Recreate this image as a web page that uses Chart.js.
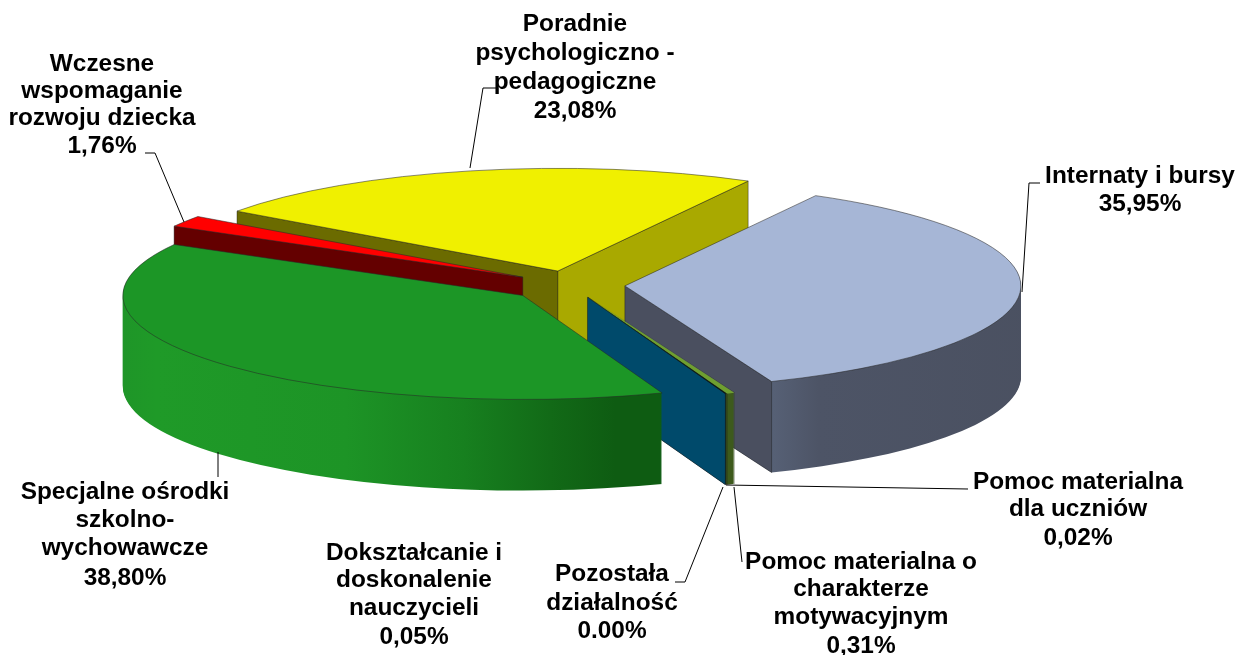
<!DOCTYPE html>
<html><head><meta charset="utf-8">
<style>html,body{margin:0;padding:0;background:#fff}canvas{display:block}</style>
<script src="https://cdn.jsdelivr.net/npm/chart.js@4/dist/chart.umd.js"></script>
</head><body>
<canvas id="c" width="1237" height="655"></canvas>
<script>
const categories = ["Internaty i bursy","Pomoc materialna dla uczniów","Pomoc materialna o charakterze motywacyjnym","Pozostała działalność","Dokształcanie i doskonalenie nauczycieli","Specjalne ośrodki szkolno-wychowawcze","Wczesne wspomaganie rozwoju dziecka","Poradnie psychologiczno - pedagogiczne"];
const values = [35.95,0.02,0.31,0.00,0.05,38.80,1.76,23.08];
const topColors = ["#a6b6d6","#2a3a1a","#6f9f30","#222222","#06121a","#1c9626","#ff0000","#f0f000"];
const sliceOffsets = [55,50,50,50,50,62,56,55];
const sliceRadii = [396,396,396,396,396,400,400,395];
const wallStops = [
 [[0,"#626d85"],[0.2,"#59647a"],[0.35,"#4d5466"],[1,"#4a5060"]],
 [[0,"#2a3a1a"],[1,"#2a3a1a"]],
 [[0,"#3d5a1c"],[1,"#3d5a1c"]],
 [[0,"#111111"],[1,"#111111"]],
 [[0,"#0a0f0c"],[1,"#0a0f0c"]],
 [[0,"#1e8f28"],[0.15,"#1f9a28"],[0.5,"#1d9426"],[0.72,"#17801f"],[0.88,"#126a17"],[1,"#0e5c12"]],
 [[0,"#640000"],[1,"#640000"]],
 [[0,"#a9a900"],[1,"#a9a900"]]
];
const endWallColors = ["#4a4f5f",null,"#3d5a1c",null,"#004a6b",null,null,"#a9a900"];
const startWallColors = [null,null,null,null,null,null,"#640000","#6b6b00"];
const drawOrder = [7,6,0,1,2,3,4,5];
const labelLines = [
 {x:1140,y:[183,211],t:["Internaty i bursy","35,95%"]},
 {x:1078,y:[489,516,545],t:["Pomoc materialna","dla uczniów","0,02%"]},
 {x:861,y:[569,596,624,653],t:["Pomoc materialna o","charakterze","motywacyjnym","0,31%"]},
 {x:612,y:[581,610,638],t:["Pozostała","działalność","0.00%"]},
 {x:414,y:[560,587,615,644],t:["Dokształcanie i","doskonalenie","nauczycieli","0,05%"]},
 {x:125,y:[499,527,555,585],t:["Specjalne ośrodki","szkolno-","wychowawcze","38,80%"]},
 {x:102,y:[71,98,125,153],t:["Wczesne","wspomaganie","rozwoju dziecka","1,76%"]},
 {x:575,y:[31,60,89,118],t:["Poradnie","psychologiczno -","pedagogiczne","23,08%"]}
];
const leaders = [
 [[1022,292],[1029,183],[1040,183]],
 [[726,485],[968,489]],
 [[734,487],[742,562]],
 [[723,487],[685,582],[675,582]],
 [[218,452],[218,477]],
 [[184,222],[155,153],[145,153]],
 [[470,168],[483,88],[497,88]]
];
const squash = 0.26, depth = 91;

const pie3d = {
  id:'pie3d',
  beforeDatasetDraw(chart,args){
    const ctx = chart.ctx, meta = chart.getDatasetMeta(0), els = meta.data;
    const cx = els[0].x, cy = els[0].y;
    const pt = (a,r,el,o)=>{
      const m=(el.startAngle+el.endAngle)/2;
      return [cx+Math.cos(m)*o+Math.cos(a)*r, cy+(Math.sin(m)*o+Math.sin(a)*r)*squash];
    };
    const drawEl = (el,o,dy,fill)=>{
      const m=(el.startAngle+el.endAngle)/2, orig=el.options;
      el.options = Object.assign({},orig,{offset:0,borderWidth:0},fill?{backgroundColor:fill}:{});
      ctx.save();
      ctx.translate(cx,cy+dy);ctx.scale(1,squash);ctx.translate(-cx,-cy);
      ctx.translate(Math.cos(m)*o,Math.sin(m)*o);
      el.draw(ctx,chart.chartArea);
      ctx.restore();
      el.options = orig;
    };
    drawOrder.forEach(i=>{
      const el = els[i];
      if(!el || !(el.circumference>0)) return;
      const o = sliceOffsets[i], R = sliceRadii[i];
      el.outerRadius = R;
      const p0=pt(0,0,el,o);
      const xs=[p0[0],pt(el.startAngle,R,el,o)[0],pt(el.endAngle,R,el,o)[0]];
      for(const k of [0,0.5,1,1.5]){const a=k*Math.PI;if(a>el.startAngle&&a<el.endAngle||a+2*Math.PI<el.endAngle)xs.push(pt(a,R,el,o)[0]);}
      const g = ctx.createLinearGradient(Math.min(...xs),0,Math.max(...xs),0);
      wallStops[i].forEach(s=>g.addColorStop(s[0],s[1]));
      for(let d=depth;d>=1;d--) drawEl(el,o,d,g);
      const wall=(a,col)=>{
        const p1=pt(a,R,el,o);
        ctx.beginPath();ctx.moveTo(p0[0],p0[1]);ctx.lineTo(p1[0],p1[1]);ctx.lineTo(p1[0],p1[1]+depth);ctx.lineTo(p0[0],p0[1]+depth);ctx.closePath();
        ctx.fillStyle=col;ctx.fill();
        ctx.strokeStyle="rgba(30,30,30,.55)";ctx.lineWidth=0.8;ctx.stroke();
      };
      if(startWallColors[i]) wall(el.startAngle,startWallColors[i]);
      if(endWallColors[i]) wall(el.endAngle,endWallColors[i]);
      drawEl(el,o,0,null);
      if(el.circumference>0.05){
        ctx.beginPath();ctx.moveTo(p0[0],p0[1]);
        ctx.ellipse(p0[0],p0[1],R,R*squash,0,Math.atan2(Math.sin(el.startAngle),Math.cos(el.startAngle)),Math.atan2(Math.sin(el.endAngle),Math.cos(el.endAngle)),false);
        ctx.closePath();
        ctx.strokeStyle="rgba(40,40,40,.6)";ctx.lineWidth=0.9;ctx.stroke();
      }
    });
    return false;
  },
  afterDraw(chart){
    const ctx=chart.ctx;
    ctx.save();
    ctx.strokeStyle="#000";ctx.lineWidth=1;
    leaders.forEach(l=>{ctx.beginPath();l.forEach((p,i)=>i?ctx.lineTo(p[0],p[1]):ctx.moveTo(p[0],p[1]));ctx.stroke();});
    ctx.fillStyle="#000";ctx.font='bold 24.4px "Liberation Sans", Arial, sans-serif';ctx.textAlign="center";ctx.textBaseline="alphabetic";
    labelLines.forEach(l=>l.t.forEach((s,i)=>ctx.fillText(s,l.x,l.y[i])));
    ctx.restore();
  }
};

new Chart(document.getElementById('c'),{
  type:'pie',
  data:{labels:categories,datasets:[{data:values,backgroundColor:topColors,borderWidth:0,offset:sliceOffsets,radius:396,clip:false}]},
  options:{responsive:false,animation:false,rotation:28.8,
    layout:{padding:{right:97,bottom:85}},
    plugins:{legend:{display:false},tooltip:{enabled:false},title:{display:false}}},
  plugins:[pie3d]
});
</script>
</body></html>
